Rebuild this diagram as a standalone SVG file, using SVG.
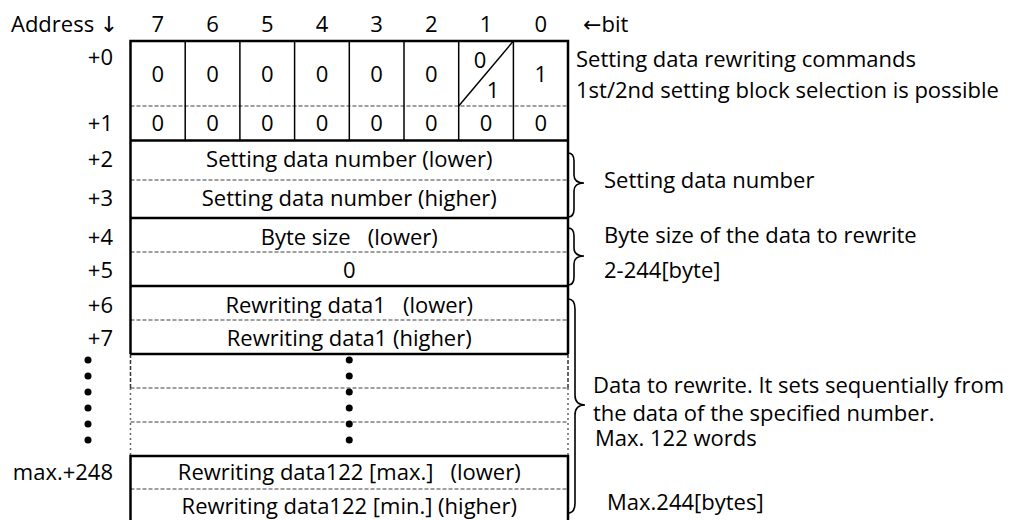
<svg xmlns="http://www.w3.org/2000/svg" width="1017" height="520" viewBox="0 0 1017 520">
<style>
text{font-family:"Open Sans","Noto Sans","DejaVu Sans",sans-serif;font-size:22px;fill:#000}
.c{text-anchor:middle}
.r{text-anchor:end}
.thick{stroke:#000;stroke-width:2.5;fill:none}
.thin{stroke:#000;stroke-width:1.5;fill:none}
.dash{stroke:#808080;stroke-width:1.5;stroke-dasharray:4 2;fill:none}
.dot{stroke:#666;stroke-width:1.5;stroke-dasharray:2 3;fill:none}
.brace{stroke:#000;stroke-width:1.6;fill:none}
</style>
<rect width="1017" height="520" fill="#fff"/>
<g id="header">
<text x="11" y="32">Address ↓</text>
<text class="c" x="157.85" y="32">7</text>
<text class="c" x="212.55" y="32">6</text>
<text class="c" x="267.25" y="32">5</text>
<text class="c" x="321.95" y="32">4</text>
<text class="c" x="376.65" y="32">3</text>
<text class="c" x="431.35" y="32">2</text>
<text class="c" x="486.05" y="32">1</text>
<text class="c" x="540.75" y="32">0</text>
<text x="583" y="32">←bit</text>
</g>
<g id="addresses">
<text class="r" x="113" y="65">+0</text>
<text class="r" x="113" y="131">+1</text>
<text class="r" x="113" y="167">+2</text>
<text class="r" x="113" y="206">+3</text>
<text class="r" x="113" y="245">+4</text>
<text class="r" x="113" y="278">+5</text>
<text class="r" x="113" y="313">+6</text>
<text class="r" x="113" y="346">+7</text>
<text class="r" x="113" y="480">max.+248</text>
<g fill="#000">
<circle cx="88" cy="360" r="3.5"/><circle cx="88" cy="376" r="3.5"/><circle cx="88" cy="392" r="3.5"/>
<circle cx="88" cy="408" r="3.5"/><circle cx="88" cy="424" r="3.5"/><circle cx="88" cy="440" r="3.5"/>
</g>
</g>
<g id="row-cmd">
<line class="dash" x1="130.5" y1="106" x2="568" y2="106"/>
<line class="thin" x1="185.2" y1="41" x2="185.2" y2="140.5"/>
<line class="thin" x1="239.9" y1="41" x2="239.9" y2="140.5"/>
<line class="thin" x1="294.6" y1="41" x2="294.6" y2="140.5"/>
<line class="thin" x1="349.3" y1="41" x2="349.3" y2="140.5"/>
<line class="thin" x1="404" y1="41" x2="404" y2="140.5"/>
<line class="thin" x1="458.7" y1="41" x2="458.7" y2="140.5"/>
<line class="thin" x1="513.4" y1="41" x2="513.4" y2="140.5"/>
<line class="thin" x1="458.7" y1="106" x2="513.4" y2="41"/>
<text class="c" x="157.85" y="82">0</text>
<text class="c" x="212.55" y="82">0</text>
<text class="c" x="267.25" y="82">0</text>
<text class="c" x="321.95" y="82">0</text>
<text class="c" x="376.65" y="82">0</text>
<text class="c" x="431.35" y="82">0</text>
<text class="c" x="480" y="68">0</text>
<text class="c" x="493" y="98">1</text>
<text class="c" x="540.75" y="82">1</text>
<text class="c" x="157.85" y="131">0</text>
<text class="c" x="212.55" y="131">0</text>
<text class="c" x="267.25" y="131">0</text>
<text class="c" x="321.95" y="131">0</text>
<text class="c" x="376.65" y="131">0</text>
<text class="c" x="431.35" y="131">0</text>
<text class="c" x="486.05" y="131">0</text>
<text class="c" x="540.75" y="131">0</text>
</g>
<g id="row-number">
<line class="dash" x1="130.5" y1="180" x2="568" y2="180"/>
<text class="c" x="349.25" y="167">Setting data number (lower)</text>
<text class="c" x="349.25" y="206">Setting data number (higher)</text>
</g>
<g id="row-size">
<line class="dash" x1="130.5" y1="252" x2="568" y2="252"/>
<text class="c" x="349.25" y="245" xml:space="preserve">Byte size   (lower)</text>
<text class="c" x="349.25" y="278">0</text>
</g>
<g id="row-data1">
<line class="dash" x1="130.5" y1="320" x2="568" y2="320"/>
<text class="c" x="349.25" y="313" xml:space="preserve">Rewriting data1   (lower)</text>
<text class="c" x="349.25" y="346">Rewriting data1 (higher)</text>
</g>
<g id="row-gap">
<line class="dash" x1="130.5" y1="388" x2="568" y2="388"/>
<line class="dash" x1="130.5" y1="422" x2="568" y2="422"/>
<line class="dash" x1="130.5" y1="354" x2="130.5" y2="388" style="stroke:#333"/>
<line class="dash" x1="568" y1="354" x2="568" y2="388" style="stroke:#333"/>
<line class="dot" x1="130.5" y1="388" x2="130.5" y2="456"/>
<line class="dot" x1="568" y1="388" x2="568" y2="456"/>
<g fill="#000">
<circle cx="349.25" cy="360" r="3.5"/><circle cx="349.25" cy="376" r="3.5"/><circle cx="349.25" cy="392" r="3.5"/>
<circle cx="349.25" cy="408" r="3.5"/><circle cx="349.25" cy="424" r="3.5"/><circle cx="349.25" cy="440" r="3.5"/>
</g>
</g>
<g id="row-data122">
<line class="dash" x1="130.5" y1="489" x2="568" y2="489"/>
<text class="c" x="349.25" y="480" xml:space="preserve">Rewriting data122 [max.]   (lower)</text>
<text class="c" x="349.25" y="514">Rewriting data122 [min.] (higher)</text>
</g>
<g id="frame">
<path class="thick" d="M130.5 354 V41 H568 V354"/>
<line class="thick" x1="130.5" y1="140.5" x2="568" y2="140.5"/>
<line class="thick" x1="130.5" y1="218" x2="568" y2="218"/>
<line class="thick" x1="130.5" y1="286" x2="568" y2="286"/>
<line class="thick" x1="130.5" y1="354" x2="568" y2="354"/>
<path class="thick" d="M130.5 530 V456 H568 V530"/>
</g>
<g id="braces">
<path class="brace" d="M568 153 Q574 153 574 161 V175 Q574 183 584 183 Q574 183 574 191 V209 Q574 217 568 217"/>
<path class="brace" d="M568 228 Q574 228 574 236 V248 Q574 256 584 256 Q574 256 574 264 V277 Q574 285 568 285"/>
<path class="brace" d="M568 299 Q575 299 575 309 V395 Q575 405 585 405 Q575 405 575 415 V503 Q575 513 568 513"/>
</g>
<g id="notes">
<text x="576" y="67">Setting data rewriting commands</text>
<text x="576" y="98">1st/2nd setting block selection is possible</text>
<text x="604" y="188">Setting data number</text>
<text x="604" y="243">Byte size of the data to rewrite</text>
<text x="604" y="278">2-244[byte]</text>
<text x="593" y="393">Data to rewrite. It sets sequentially from</text>
<text x="593" y="421">the data of the specified number.</text>
<text x="595" y="446">Max. 122 words</text>
<text x="607" y="510">Max.244[bytes]</text>
</g>
</svg>
